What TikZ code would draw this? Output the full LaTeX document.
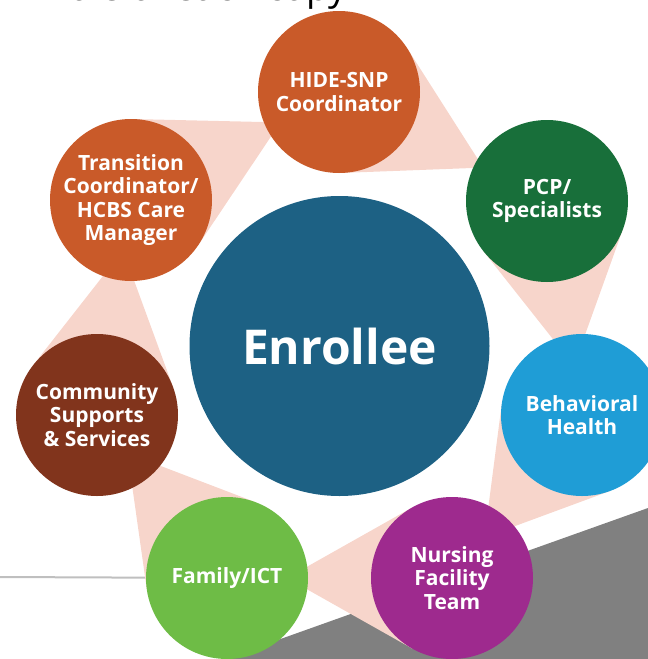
\documentclass[tikz,border=0pt]{standalone}
\usepackage{fontspec}
\setmainfont{Open Sans}
\usepackage{tikz}
\usetikzlibrary{calc, backgrounds}

\definecolor{rust}{HTML}{C95A29}
\definecolor{forest}{HTML}{186F3A}
\definecolor{sky}{HTML}{1F9DD6}
\definecolor{plum}{HTML}{9E2A8E}
\definecolor{leaf}{HTML}{6EBC46}
\definecolor{bark}{HTML}{81341C}
\definecolor{hubblue}{HTML}{1D6184}
\definecolor{blush}{HTML}{F7D5CB}
\definecolor{slate}{HTML}{808080}
\definecolor{rulegray}{HTML}{BFBFBF}

\begin{document}
\begin{tikzpicture}[
  x=1pt, y=-1pt,
  member/.style={circle, fill=#1, minimum size=162pt, inner sep=0pt, outer sep=0pt},
  tagtext/.style={text=white, align=center, font=\fontsize{21}{23.5}\selectfont\bfseries},
  hub/.style={circle, fill=hubblue, minimum size=300pt, inner sep=0pt, outer sep=0pt, text=white, font=\fontsize{48}{52}\selectfont\bfseries},
  band/.style={fill=blush},
]
  \useasboundingbox (0,0) rectangle (648,659);

  % Nodes
  \node[hub] (enrollee) at (339.5,346) {Enrollee};
  \node[member=rust, label={[tagtext]center:HIDE-SNP\\Coordinator}] (hide) at (339,92) {};
  \node[member=forest, label={[tagtext]center:PCP/\\Specialists}] (pcp) at (547,201) {};
  \node[member=sky, label={[tagtext]center:Behavioral\\Health}] (behav) at (582,415) {};
  \node[member=plum, label={[tagtext]center:Nursing\\Facility\\Team}] (nursing) at (452,578) {};
  \node[member=leaf, label={[tagtext]center:Family/ICT}] (family) at (227,578) {};
  \node[member=bark, label={[tagtext]center:Community\\Supports\\\& Services}] (community) at (97,415) {};
  \node[member=rust, label={[tagtext]center:Transition\\Coordinator/\\HCBS Care\\Manager}] (transition) at (131,200) {};

  % Heading, cut off at the top edge
  \node[anchor=base west, font=\fontsize{37}{40}\selectfont] (heading) at (42,0) {Role of each copy};

  % Bands between neighbours
  \begin{scope}[on background layer]
    \fill[slate] (216,662) -- (648,508) -- (648,662) -- cycle;
    \coordinate (rulestart) at (0,577);
    \draw[rulegray, line width=2pt] (rulestart) -- (family);
    \foreach \src/\dst/\off in {hide/pcp/72pt, pcp/behav/50pt, behav/nursing/52pt,
        nursing/family/60pt, family/community/49pt, community/transition/51pt,
        transition/hide/66pt}{
      \coordinate (tip) at ($(\dst)!\off!(\src)$);
      \fill[band] (tip) -- (tangent cs:node=\src,point={(tip)},solution=1)
        -- (\src.center) -- (tangent cs:node=\src,point={(tip)},solution=2) -- cycle;
    }
  \end{scope}
\end{tikzpicture}
\end{document}
